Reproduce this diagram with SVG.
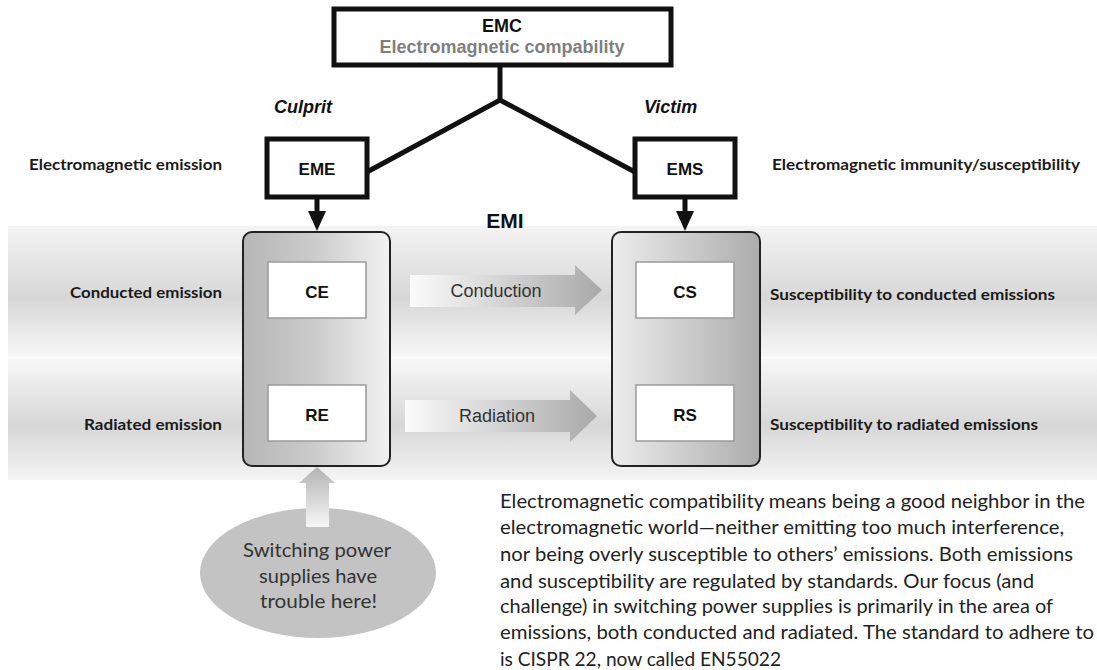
<svg xmlns="http://www.w3.org/2000/svg" width="1097" height="670" viewBox="0 0 1097 670">
  <style>
    .heavy { fill: #ffffff; stroke: #111111; stroke-width: 5; }
    .wire { fill: none; stroke: #111111; stroke-width: 5; stroke-linejoin: miter; }
    .inner { fill: #ffffff; stroke: #9a9a9a; stroke-width: 1.5; }
    .arial { font-family: "Liberation Sans", Arial, sans-serif; }
    .hd { font-family: "Liberation Sans", Arial, sans-serif; font-weight: bold; font-size: 18px; fill: #111111; text-anchor: middle; }
    .tag { font-family: "Liberation Sans", Arial, sans-serif; font-weight: bold; font-size: 17px; fill: #111111; text-anchor: middle; }
    .role { font-family: "Liberation Sans", Arial, sans-serif; font-weight: bold; font-style: italic; font-size: 18px; fill: #111111; }
    .lbl { font-family: Lato, "Open Sans", sans-serif; font-weight: bold; font-size: 16px; fill: #1a1a1a; }
    .path-lbl { font-family: "Liberation Sans", Arial, sans-serif; font-size: 18px; fill: #333333; text-anchor: middle; }
    .body { font-family: Lato, "Open Sans", sans-serif; font-size: 20px; fill: #222222; }
    .bubble { font-family: Lato, "Open Sans", sans-serif; font-size: 20px; fill: #333333; }
  </style>
  <defs>
    <linearGradient id="bandTop" x1="0" y1="0" x2="0" y2="1">
      <stop offset="0" stop-color="#f4f4f4"/>
      <stop offset="0.55" stop-color="#d7d7d7"/>
      <stop offset="1" stop-color="#f8f8f8"/>
    </linearGradient>
    <linearGradient id="bandBot" x1="0" y1="0" x2="0" y2="1">
      <stop offset="0" stop-color="#f8f8f8"/>
      <stop offset="0.55" stop-color="#d7d7d7"/>
      <stop offset="1" stop-color="#f4f4f4"/>
    </linearGradient>
    <linearGradient id="srcFill" x1="0" y1="0" x2="1" y2="0">
      <stop offset="0" stop-color="#b6b6b6"/>
      <stop offset="0.45" stop-color="#c9c9c9"/>
      <stop offset="1" stop-color="#f2f2f2"/>
    </linearGradient>
    <linearGradient id="dstFill" x1="0" y1="0" x2="1" y2="0">
      <stop offset="0" stop-color="#ececec"/>
      <stop offset="0.55" stop-color="#c9c9c9"/>
      <stop offset="1" stop-color="#acacac"/>
    </linearGradient>
    <linearGradient id="flowFill" x1="0" y1="0" x2="1" y2="0">
      <stop offset="0" stop-color="#fbfbfb"/>
      <stop offset="1" stop-color="#a9a9a9"/>
    </linearGradient>
    <linearGradient id="upFill" x1="0" y1="0" x2="0" y2="1">
      <stop offset="0" stop-color="#b3b3b3"/>
      <stop offset="1" stop-color="#f7f7f7"/>
    </linearGradient>
    <marker id="tip" viewBox="0 0 10 10" refX="10" refY="5" markerWidth="3.4" markerHeight="3.4" markerUnits="strokeWidth" orient="auto">
      <path d="M0,0 L10,5 L0,10 Z" fill="#111111"/>
    </marker>
  </defs>

  <rect width="1097" height="670" fill="#ffffff"/>

  <!-- EMI band: two shaded rows -->
  <g id="emi-band">
    <rect x="8" y="226" width="1089" height="132" fill="url(#bandTop)"/>
    <rect x="8" y="358" width="1089" height="122" fill="url(#bandBot)"/>
    <line x1="8" y1="358" x2="1097" y2="358" stroke="#fbfbfb" stroke-width="1.5"/>
    <text x="505" y="228" class="arial" font-weight="bold" font-size="21" fill="#111111" text-anchor="middle">EMI</text>
  </g>

  <!-- connectors -->
  <g id="connectors">
    <polyline class="wire" points="367,172 500,100 635,172"/>
    <line class="wire" x1="500" y1="65" x2="500" y2="100"/>
    <line class="wire" x1="317" y1="197" x2="317" y2="214" />
    <path d="M308,211 L326,211 L317,231 Z" fill="#111111"/>
    <line class="wire" x1="685" y1="197" x2="685" y2="214" />
    <path d="M676,211 L694,211 L685,231 Z" fill="#111111"/>
    <!-- coupling paths between source and victim -->
    <path d="M410,275 L575,275 L575,265 L602,290 L575,315 L575,307 L410,307 Z" fill="url(#flowFill)"/>
    <path d="M405,400 L570,400 L570,390 L597,416 L570,442 L570,432 L405,432 Z" fill="url(#flowFill)"/>
    <text x="496" y="297" class="path-lbl">Conduction</text>
    <text x="497" y="422" class="path-lbl">Radiation</text>
  </g>

  <g id="emc">
    <rect class="heavy" x="334" y="9" width="337" height="56"/>
    <text x="502" y="32" class="hd">EMC</text>
    <text x="502" y="53" class="hd" fill="#7f7f7f" style="fill:#7f7f7f">Electromagnetic compability</text>
  </g>

  <g id="eme">
    <rect class="heavy" x="267" y="139" width="100" height="58"/>
    <text x="317" y="175" class="tag">EME</text>
    <text x="274" y="113" class="role">Culprit</text>
    <text x="29" y="170" class="lbl" textLength="193" lengthAdjust="spacingAndGlyphs">Electromagnetic emission</text>
  </g>

  <g id="ems">
    <rect class="heavy" x="635" y="139" width="100" height="58"/>
    <text x="685" y="175" class="tag">EMS</text>
    <text x="644" y="113" class="role">Victim</text>
    <text x="772" y="170" class="lbl" textLength="308" lengthAdjust="spacingAndGlyphs">Electromagnetic immunity/susceptibility</text>
  </g>

  <g id="source">
    <rect x="243" y="232" width="147" height="234" rx="9" fill="url(#srcFill)" stroke="#222222" stroke-width="2"/>
    <rect class="inner" x="268" y="262" width="98" height="56"/>
    <text x="317" y="298" class="tag">CE</text>
    <rect class="inner" x="268" y="385" width="98" height="56"/>
    <text x="317" y="421" class="tag">RE</text>
    <text x="70" y="298" class="lbl" textLength="152" lengthAdjust="spacingAndGlyphs">Conducted emission</text>
    <text x="84" y="430" class="lbl" textLength="138" lengthAdjust="spacingAndGlyphs">Radiated emission</text>
  </g>

  <g id="victim">
    <rect x="612" y="232" width="148" height="234" rx="9" fill="url(#dstFill)" stroke="#222222" stroke-width="2"/>
    <rect class="inner" x="636" y="262" width="98" height="56"/>
    <text x="685" y="298" class="tag">CS</text>
    <rect class="inner" x="636" y="385" width="98" height="56"/>
    <text x="685" y="421" class="tag">RS</text>
    <text x="770" y="300" class="lbl" textLength="285" lengthAdjust="spacingAndGlyphs">Susceptibility to conducted emissions</text>
    <text x="770" y="430" class="lbl" textLength="268" lengthAdjust="spacingAndGlyphs">Susceptibility to radiated emissions</text>
  </g>

  <g id="trouble-note">
    <ellipse cx="318" cy="573" rx="118" ry="65" fill="#c3c3c3"/>
    <path d="M306,527 L306,483 L299,483 L317,467 L335,483 L329,483 L329,527 Z" fill="url(#upFill)"/>
    <text x="243" y="557" class="bubble" textLength="148" lengthAdjust="spacingAndGlyphs">Switching power</text>
    <text x="259" y="583" class="bubble" textLength="118" lengthAdjust="spacingAndGlyphs">supplies have</text>
    <text x="260" y="608" class="bubble" textLength="117" lengthAdjust="spacingAndGlyphs">trouble here!</text>
  </g>

  <g id="explanation">
    <text x="500" y="508" class="body" textLength="585" lengthAdjust="spacingAndGlyphs">Electromagnetic  compatibility means being a good neighbor in the</text>
    <text x="500" y="534" class="body" textLength="564" lengthAdjust="spacingAndGlyphs">electromagnetic world—neither emitting too much interference,</text>
    <text x="500" y="561" class="body" textLength="573" lengthAdjust="spacingAndGlyphs">nor being overly susceptible to others’ emissions. Both emissions</text>
    <text x="500" y="588" class="body" textLength="534" lengthAdjust="spacingAndGlyphs">and susceptibility are regulated by standards. Our focus (and</text>
    <text x="500" y="613" class="body" textLength="553" lengthAdjust="spacingAndGlyphs">challenge) in switching power supplies is primarily in the area of</text>
    <text x="500" y="639" class="body" textLength="594" lengthAdjust="spacingAndGlyphs">emissions, both conducted and radiated. The standard to adhere to</text>
    <text x="500" y="666" class="body" textLength="281" lengthAdjust="spacingAndGlyphs">is CISPR 22, now called EN55022</text>
  </g>
</svg>
